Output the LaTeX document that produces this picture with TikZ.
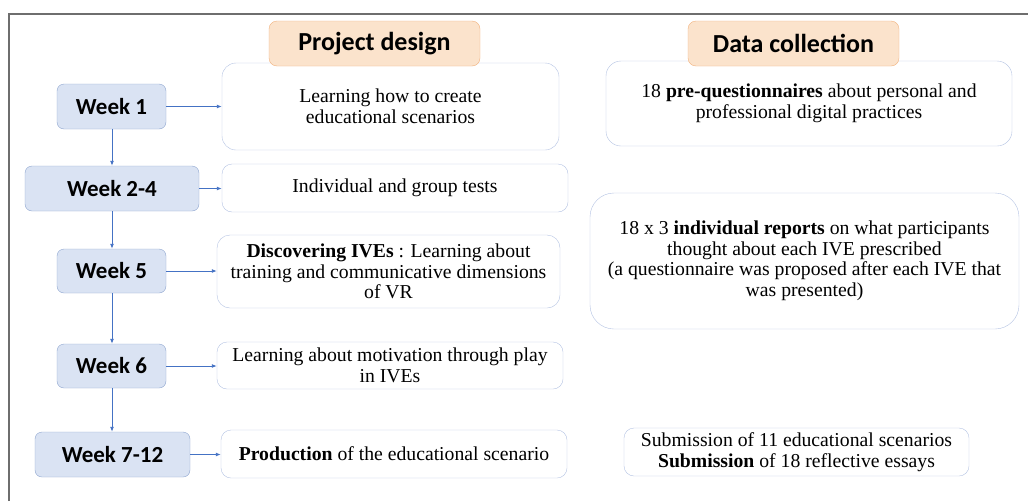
\documentclass[tikz,border=0pt]{standalone}
\usepackage{fontspec}
\setmainfont{Liberation Serif}
\newfontfamily\calibri{Carlito}
\usetikzlibrary{arrows.meta}

\definecolor{wkfill}{HTML}{DAE3F3}
\definecolor{wkline}{HTML}{8EA5CF}
\definecolor{hdfill}{HTML}{FBE3CC}
\definecolor{hdline}{HTML}{F2B27E}
\definecolor{bxline}{HTML}{B4C3E3}
\definecolor{flow}{HTML}{4472C4}
\definecolor{frame}{HTML}{6E6E6E}

\tikzset{
  week/.style={draw=wkline,fill=wkfill,rounded corners=7pt,inner sep=0pt,
    minimum height=45pt,font=\calibri\bfseries\fontsize{23}{23}\selectfont},
  task/.style={draw=bxline,fill=white,rounded corners=10pt,inner sep=0pt,align=center,
    font=\fontsize{19.7}{20.5}\selectfont},
  head/.style={draw=hdline,fill=hdfill,rounded corners=8pt,inner sep=0pt,
    minimum width=211pt,minimum height=45pt,font=\calibri\bfseries\fontsize{26}{26}\selectfont},
  flow/.style={draw=flow,line width=0.9pt,-{Latex[length=5pt,width=4pt]}}
}

\begin{document}
\begin{tikzpicture}[x=1pt,y=-1pt]
    \useasboundingbox (0,0) rectangle (1028,501);
    \draw[frame,line width=2pt] (9,501) -- (9,14) -- (1028,14);

    \node[week,minimum width=109pt] (wk1) at (111.5,106.5) {Week 1};
    \node[week,minimum width=174pt] (wk24) at (112,188.5) {Week 2-4};
    \node[week,minimum width=109pt,minimum height=44pt] (wk5) at (111.5,271) {Week 5};
    \node[week,minimum width=109pt,minimum height=44pt] (wk6) at (111.5,366) {Week 6};
    \node[week,minimum width=155pt] (wk712) at (112.5,454.5) {Week 7-12};

    \node[task,minimum width=337pt,minimum height=87pt,rounded corners=14pt] (act1) at (390.5,106.5) {Learning how to create\\educational scenarios};
    \node[task,minimum width=346pt,minimum height=48pt] (act2) at (395,188) {Individual and group tests};
    \node[task,minimum width=343pt,minimum height=73pt,rounded corners=13pt] (act3) at (388.5,271.5) {\textbf{Discovering IVEs} : Learning about\\training and communicative dimensions\\of VR};
    \node[task,minimum width=346pt,minimum height=47pt] (act4) at (390,365.5) {Learning about motivation through play\\in IVEs};
    \node[task,minimum width=346pt,minimum height=48pt] (act5) at (394,454) {\textbf{Production} of the educational scenario};

    \node[task,minimum width=406pt,minimum height=85pt,rounded corners=15pt] (dat1) at (809,103.5) {18 \textbf{pre-questionnaires} about personal and\\professional digital practices};
    \node[task,minimum width=429pt,minimum height=136pt,rounded corners=24pt] (dat2) at (804.5,261) {18 x 3 \textbf{individual reports} on what participants\\thought about each IVE prescribed\\(a questionnaire was proposed after each IVE that\\was presented)};
    \node[task,minimum width=345pt,minimum height=48pt] (dat3) at (796.5,452) {Submission of 11 educational scenarios\\\textbf{Submission} of 18 reflective essays};

    \node[head] (hdr1) at (374.5,43.5) {Project design};
    \node[head] (hdr2) at (793.5,43.5) {Data collection};

    \draw[flow] (wk1) -- (act1.west |- wk1);
    \draw[flow] (wk24) -- (act2.west |- wk24);
    \draw[flow] (wk5) -- (act3.west |- wk5);
    \draw[flow] (wk6) -- (act4.west |- wk6);
    \draw[flow] (wk712) -- (act5.west |- wk712);

    \draw[flow] (wk1.south -| wk24) -- (wk24.north);
    \draw[flow] (wk24.south) -- (wk5.north -| wk24);
    \draw[flow] (wk5.south -| wk24) -- (wk6.north -| wk24);
    \draw[flow] (wk6.south -| wk24) -- (wk712.north -| wk24);
\end{tikzpicture}
\end{document}
